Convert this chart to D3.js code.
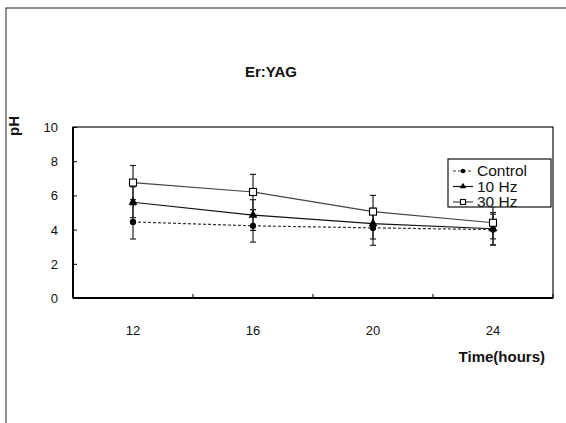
<!DOCTYPE html>
<html>
<head>
<meta charset="utf-8">
<script src="https://cdn.jsdelivr.net/npm/d3@7"></script>
<style>
body{margin:0;background:#fff;}
text{font-family:Arial,"Liberation Sans",sans-serif;fill:#111;}
</style>
</head>
<body>
<svg width="566" height="423"></svg>
<script>
//chart data
var hours = ["12", "16", "20", "24"];
var yTicks = [0, 2, 4, 6, 8, 10];
var controlVals = [4.45, 4.22, 4.1, 4.0];
var controlErr = [1.0, 0.95, 1.02, 0.9];
var hz10Vals = [5.6, 4.85, 4.35, 4.05];
var hz10Err = [0.9, 0.9, 0.9, 0.95];
var hz30Vals = [6.75, 6.2, 5.05, 4.4];
var hz30Err = [1.0, 1.03, 0.95, 0.94];
var seriesNames = ["Control", "10 Hz", "30 Hz"];

var svg = d3.select("svg");

//outer frame of the scanned figure
svg.append("rect").attr("x", 6).attr("y", 8).attr("width", 580).attr("height", 440)
	.style("fill", "none").style("stroke", "#222").style("stroke-width", 1);

var plotLeft = 73, plotRight = 553, plotTop = 127, plotBottom = 298;

var x = d3.scaleBand().domain(hours).range([plotLeft, plotRight]);
var y = d3.scaleLinear().domain([0, 10]).range([plotBottom, plotTop]);

//title
svg.append("text").attr("x", 271).attr("y", 77).attr("text-anchor", "middle")
	.style("font-weight", "bold").style("font-size", "15px").text("Er:YAG");

//plot box
svg.append("rect").attr("x", plotLeft).attr("y", plotTop).attr("width", plotRight - plotLeft).attr("height", plotBottom - plotTop)
	.style("fill", "none").style("stroke", "#111").style("stroke-width", 1.2);
svg.append("line").attr("x1", plotLeft).attr("x2", plotLeft).attr("y1", plotTop).attr("y2", plotBottom)
	.style("stroke", "#000").style("stroke-width", 2);
svg.append("line").attr("x1", plotLeft).attr("x2", plotRight).attr("y1", plotBottom).attr("y2", plotBottom)
	.style("stroke", "#000").style("stroke-width", 2);

//y axis, ticks pointing in
var yAxis = svg.append("g").attr("transform", "translate(" + plotLeft + ",0)")
	.call(d3.axisRight(y).tickValues(yTicks).tickSize(4).tickFormat(""));
yAxis.select(".domain").remove();
yAxis.selectAll("line").style("stroke", "#000");
svg.selectAll(".ylab").data(yTicks).enter().append("text")
	.attr("x", 58).attr("y", function(d){ return y(d) + 5; })
	.attr("text-anchor", "end").style("font-size", "13px").text(function(d){ return d; });

//x axis, ticks between categories
var xBounds = hours.map(function(h){ return x(h); }).concat([plotRight]);
svg.selectAll(".xtick").data(xBounds).enter().append("line")
	.attr("x1", function(d){ return d; }).attr("x2", function(d){ return d; })
	.attr("y1", plotBottom).attr("y2", plotBottom - 4).style("stroke", "#000");
svg.selectAll(".xlab").data(hours).enter().append("text")
	.attr("x", function(d){ return x(d) + x.bandwidth() / 2; }).attr("y", 335)
	.attr("text-anchor", "middle").style("font-size", "13px").text(function(d){ return d; });

//axis titles
svg.append("text").attr("transform", "translate(19,126) rotate(-90)").attr("text-anchor", "middle")
	.style("font-weight", "bold").style("font-size", "15px").text("pH");
svg.append("text").attr("x", 545).attr("y", 362).attr("text-anchor", "end")
	.style("font-weight", "bold").style("font-size", "15px").text("Time(hours)");

var series = [
	{name: seriesNames[0], vals: controlVals, err: controlErr, color: "#333", dash: "3,2", mark: "circle"},
	{name: seriesNames[1], vals: hz10Vals, err: hz10Err, color: "#111", dash: null, mark: "triangle"},
	{name: seriesNames[2], vals: hz30Vals, err: hz30Err, color: "#444", dash: null, mark: "square"}
];

var cx = function(i){ return x(hours[i]) + x.bandwidth() / 2; };
var line = d3.line().x(function(d, i){ return cx(i); }).y(function(d){ return y(d); });

//draws a marker of the given kind at px,py
function drawMark(g, kind, px, py, sz) {
	if (kind == "circle") {
		g.append("circle").attr("cx", px).attr("cy", py).attr("r", sz * 0.45).style("fill", "#000");
	} else if (kind == "triangle") {
		g.append("path").attr("d", d3.symbol().type(d3.symbolTriangle).size(sz * sz * 0.7)())
			.attr("transform", "translate(" + px + "," + py + ")").style("fill", "#000");
	} else {
		g.append("rect").attr("x", px - sz / 2).attr("y", py - sz / 2).attr("width", sz).attr("height", sz)
			.style("fill", "#fff").style("stroke", "#000").style("stroke-width", 1.1);
	}
}

//error bars first
series.forEach(function(s){
	s.vals.forEach(function(v, i){
		var px = cx(i);
		svg.append("line").attr("x1", px).attr("x2", px).attr("y1", y(v - s.err[i])).attr("y2", y(v + s.err[i]))
			.style("stroke", "#222").style("stroke-width", 1.2);
		[v - s.err[i], v + s.err[i]].forEach(function(e){
			svg.append("line").attr("x1", px - 3).attr("x2", px + 3).attr("y1", y(e)).attr("y2", y(e))
				.style("stroke", "#222").style("stroke-width", 1.2);
		});
	});
});

series.forEach(function(s){
	svg.append("path").datum(s.vals).attr("d", line)
		.style("fill", "none").style("stroke", s.color).style("stroke-width", 1.2)
		.style("stroke-dasharray", s.dash);
	s.vals.forEach(function(v, i){ drawMark(svg, s.mark, cx(i), y(v), 7); });
});

//legend
var lg = svg.append("g");
lg.append("rect").attr("x", 448).attr("y", 159).attr("width", 103).attr("height", 48)
	.style("fill", "#fff").style("stroke", "#111").style("stroke-width", 1.2);
series.forEach(function(s, i){
	var ly = 171 + i * 15.5;
	lg.append("line").attr("x1", 453).attr("x2", 473).attr("y1", ly).attr("y2", ly)
		.style("stroke", s.color).style("stroke-width", 1.2).style("stroke-dasharray", s.dash);
	drawMark(lg, s.mark, 463, ly, 5);
	lg.append("text").attr("x", 477).attr("y", ly + 5).style("font-size", "15.5px").text(s.name);
});
</script>
</body>
</html>
